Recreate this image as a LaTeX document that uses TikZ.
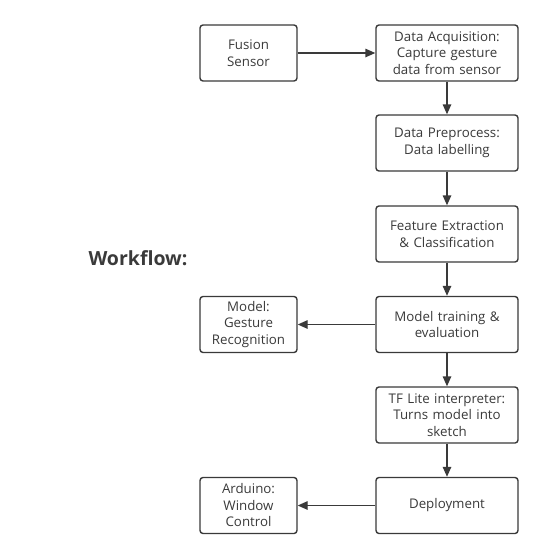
\documentclass[tikz,border=0pt]{standalone}
\usepackage{fontspec}
\setmainfont{Open Sans}
\usetikzlibrary{arrows.meta}
\definecolor{ln}{HTML}{3A3A3A}
\definecolor{tx}{HTML}{3A3A3A}
\begin{document}
\begin{tikzpicture}[x=1pt,y=-1pt,
  box/.style={draw=ln, line width=1.4pt, rounded corners=3pt, fill=white,
    minimum height=56pt, align=center, text=tx, inner sep=2pt,
    font=\fontsize{13.3}{16.5}\selectfont},
  rbox/.style={box, minimum width=142pt, text width=138pt},
  lbox/.style={box, minimum width=97pt, text width=93pt},
  arr/.style={draw=ln, line width=1.4pt, -{Triangle[length=10pt,width=8.5pt]}}]
\useasboundingbox (0,0) rectangle (547,560);
\node[lbox] (fs) at (248.5,53) {Fusion\\Sensor};
\node[rbox] (da) at (447,53) {Data Acquisition:\\Capture gesture\\data from sensor};
\node[rbox] (dp) at (447,143) {Data Preprocess:\\Data labelling};
\node[rbox] (fe) at (447,234) {Feature Extraction\\\& Classification};
\node[rbox] (mt) at (447,324.5) {Model training \&\\evaluation};
\node[lbox] (mg) at (248.5,324.5) {Model:\\Gesture\\Recognition};
\node[rbox] (tf) at (447,415) {TF Lite interpreter:\\Turns model into\\sketch};
\node[rbox] (dep) at (447,505.5) {Deployment};
\node[lbox] (ar) at (248.5,505.5) {Arduino:\\Window\\Control};
\node[font=\fontsize{19.5}{22}\selectfont\bfseries, text=tx, anchor=west] (wf) at (85,258) {Workflow:};
\draw[arr] (fs) -- (da);
\draw[arr] (da) -- (dp);
\draw[arr] (dp) -- (fe);
\draw[arr] (fe) -- (mt);
\draw[arr] (mt) -- (mg);
\draw[arr] (mt) -- (tf);
\draw[arr] (tf) -- (dep);
\draw[arr] (dep) -- (ar);
\end{tikzpicture}
\end{document}
